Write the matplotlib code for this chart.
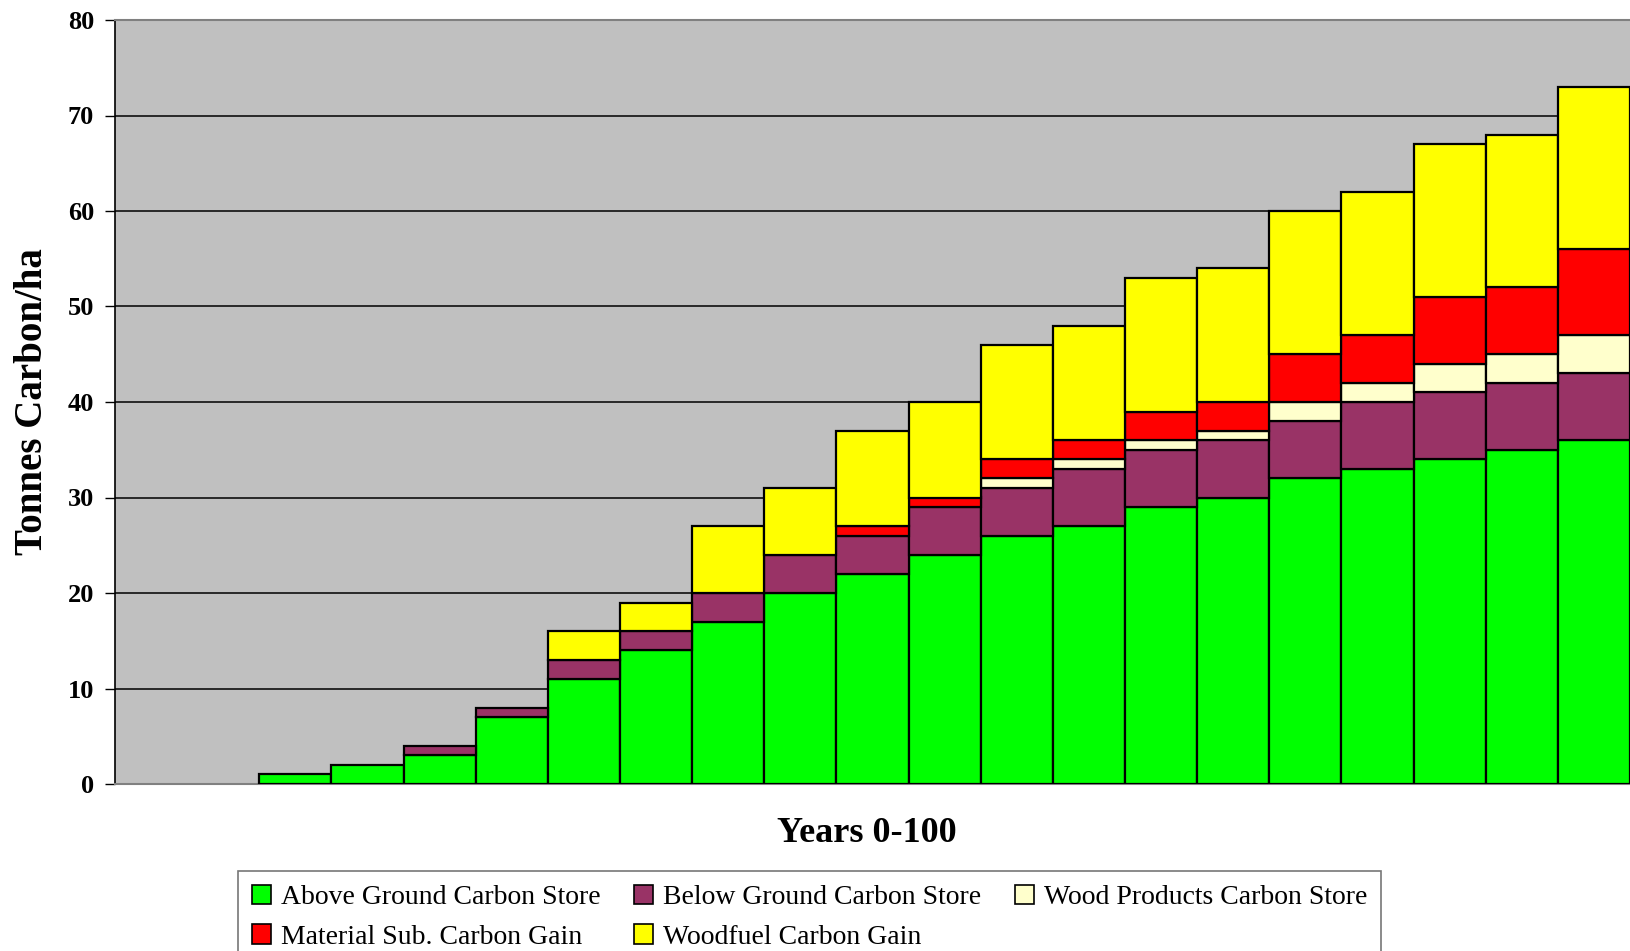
import matplotlib
matplotlib.use("Agg")
import matplotlib.pyplot as plt
import numpy as np

# Stand of 21 five-year periods (years 0-100); carbon pools in tonnes C per hectare
periods = list(range(21))
above_ground = [0, 0, 1, 2, 3, 7, 11, 14, 17, 20, 22, 24, 26, 27, 29, 30, 32, 33, 34, 35, 36]
below_ground = [0, 0, 0, 0, 1, 1, 2, 2, 3, 4, 4, 5, 5, 6, 6, 6, 6, 7, 7, 7, 7]
wood_products = [0, 0, 0, 0, 0, 0, 0, 0, 0, 0, 0, 0, 1, 1, 1, 1, 2, 2, 3, 3, 4]
material_sub = [0, 0, 0, 0, 0, 0, 0, 0, 0, 0, 1, 1, 2, 2, 3, 3, 5, 5, 7, 7, 9]
woodfuel = [0, 0, 0, 0, 0, 0, 3, 3, 7, 7, 10, 10, 12, 12, 14, 14, 15, 15, 16, 16, 17]

series_names = [
    "Above Ground Carbon Store",
    "Below Ground Carbon Store",
    "Wood Products Carbon Store",
    "Material Sub. Carbon Gain",
    "Woodfuel Carbon Gain",
]
series_colors = ["#00FF00", "#993366", "#FFFFCC", "#FF0000", "#FFFF00"]
y_ticks = [0, 10, 20, 30, 40, 50, 60, 70, 80]

serif = ["Liberation Serif", "DejaVu Serif"]
plt.rcParams["font.family"] = serif

W, H = 1630, 951
fig = plt.figure(figsize=(W / 100, H / 100), dpi=100)
ax = fig.add_axes([115 / W, 1 - 784 / H, 1 - 115 / W, (784 - 20) / H])
ax.set_facecolor("#C0C0C0")

x = np.array(periods)
bottom = np.zeros(len(periods))
handles = []
for name, vals, col in zip(series_names,
                           [above_ground, below_ground, wood_products, material_sub, woodfuel],
                           series_colors):
    v = np.array(vals, dtype=float)
    mask = v > 0
    ax.bar(x[mask], v[mask], width=1.0, bottom=bottom[mask], color=col,
           edgecolor="black", linewidth=1.6, zorder=3)
    handles.append(plt.Rectangle((0, 0), 1, 1, facecolor=col, edgecolor="black", linewidth=1.2))
    bottom += v

ax.set_xlim(-0.5, 20.5)
ax.set_ylim(0, 80)
ax.set_yticks(y_ticks)
ax.set_yticklabels([str(t) for t in y_ticks], fontsize=19, fontweight="bold")
ax.set_xticks([])
ax.tick_params(axis="y", length=7, width=1, pad=8, color="black")
ax.yaxis.grid(True, color="black", linewidth=1.1, zorder=1)
ax.set_axisbelow(True)

ax.spines["left"].set_color("black")
ax.spines["left"].set_linewidth(1.2)
ax.spines["top"].set_color("#808080")
ax.spines["top"].set_linewidth(1.5)
ax.spines["bottom"].set_color("#808080")
ax.spines["bottom"].set_linewidth(1.5)
ax.spines["right"].set_visible(False)

fig.text(33 / W, 1 - 402 / H, "Tonnes Carbon/ha", rotation=90, ha="center", va="center",
         fontsize=28, fontweight="bold")
fig.text(867 / W, 1 - 834 / H, "Years 0-100", ha="center", va="center",
         fontsize=26, fontweight="bold")

order = [0, 3, 1, 4, 2]
leg = fig.legend([handles[i] for i in order], [series_names[i] for i in order],
                 ncol=3, loc="upper left", bbox_to_anchor=(238 / W, 1 - 871 / H),
                 borderaxespad=0.0,
                 fontsize=20, frameon=True, fancybox=False, edgecolor="#555555",
                 handlelength=0.7, handleheight=0.7, handletextpad=0.35,
                 columnspacing=1.2, labelspacing=0.5, borderpad=0.5)
leg.get_frame().set_linewidth(1.2)

fig.savefig("out.png", dpi=100, facecolor="white")
